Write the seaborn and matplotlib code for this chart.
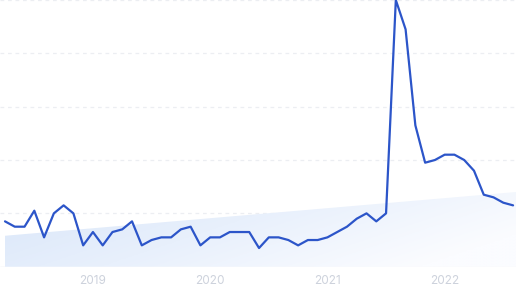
import numpy as np
import pandas as pd
import matplotlib
matplotlib.use("Agg")
import matplotlib.pyplot as plt
import seaborn as sns
from matplotlib.colors import LinearSegmentedColormap

# ---- data (monthly interest, Apr 2018 .. Aug 2022) ----
months = pd.date_range("2018-04-01", periods=53, freq="MS")
interest = [17, 15, 15, 21, 11, 20, 23, 20, 8, 13, 8, 13, 14, 17, 8, 10, 11, 11,
            14, 15, 8, 11, 11, 13, 13, 13, 7, 11, 11, 10, 8, 10, 10, 11, 13, 15,
            18, 20, 17, 20, 100, 89, 53, 39, 40, 42, 42, 40, 36, 27, 26, 24, 23]
trend_ends = [11.6, 28.0]          # linear trend at start / end of the window
tick_years = ["2019", "2020", "2021", "2022"]
grid_levels = [20, 40, 60, 80, 100]

df = pd.DataFrame({"idx": np.arange(len(interest)), "interest": interest})

sns.set_theme(style="white")
plt.rcParams["font.family"] = ["Inter", "DejaVu Sans"]

W, H = 516, 290
fig = plt.figure(figsize=(W / 100, H / 100), dpi=100)
base_px = 266.7
ax = fig.add_axes([0, (H - base_px) / H, 1, base_px / H])

x_left, x_right = -0.512, 52.3
ax.set_xlim(x_left, x_right)
ax.set_ylim(0, 100)

# gridlines
for g in grid_levels:
    ax.axhline(g, color="#eceef2", lw=0.9, ls=(0, (3, 3)), zorder=0)
ax.axhline(0, color="#e6e9ee", lw=1.0, zorder=1)

# gradient trend area
tx = np.array([0, x_right])
ty = np.array(trend_ends)
poly = ax.fill_between(tx, 0, ty, color="none", lw=0)
cmap = LinearSegmentedColormap.from_list("tr", ["#d9e6f9", "#e8f0fc", "#fbfcff"])
gx = np.linspace(0, 1, 300)
gy = np.linspace(0, 1, 100)
GX, GY = np.meshgrid(gx, gy)
grad = 0.8 * GX + 0.35 * (1 - GY)
grad = np.clip(grad, 0, 1)
im = ax.imshow(grad, extent=[0, x_right, 0, max(trend_ends)], origin="lower",
               aspect="auto", cmap=cmap, zorder=1, vmin=0, vmax=1)
path = poly.get_paths()[0]
im.set_clip_path(path, transform=ax.transData)

# main line
sns.lineplot(data=df, x="idx", y="interest", ax=ax, color="#2c55c9", lw=1.6,
             zorder=3, clip_on=True)

# ticks
year_idx = [9, 21, 33, 45]
ax.set_xticks(year_idx)
ax.set_xticklabels(tick_years)
ax.tick_params(axis="x", length=0, pad=6, labelsize=8.5, labelcolor="#cdd2dc")
ax.set_yticks([])
ax.set_xlabel("")
ax.set_ylabel("")
for s in ax.spines.values():
    s.set_visible(False)

fig.savefig("out.png", dpi=100)
